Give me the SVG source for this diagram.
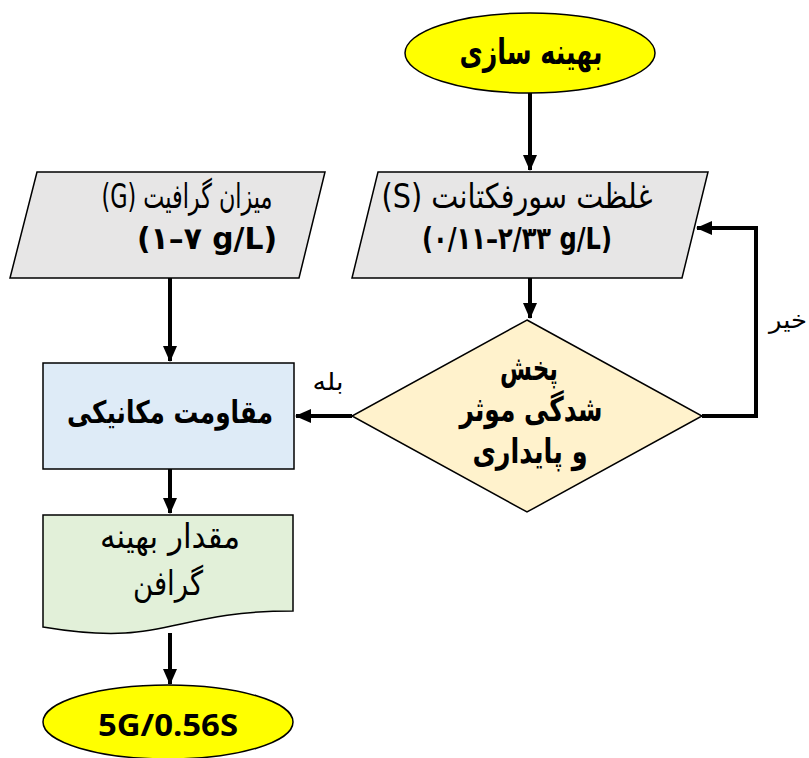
<svg xmlns="http://www.w3.org/2000/svg" width="809" height="758" viewBox="0 0 809 758">
<style>
.ar{font-family:'DejaVu Sans','Noto Sans',sans-serif;fill:#000;}
.b{font-weight:bold;}
.lat{font-family:'Open Sans','DejaVu Sans',sans-serif;fill:#000;}
.conn{fill:none;stroke:#000;stroke-width:4;}
.node{stroke:#000;stroke-width:1.5;}
</style>
<defs>
<marker id="ah" markerUnits="userSpaceOnUse" markerWidth="16" markerHeight="14" refX="15" refY="7" orient="auto">
<path d="M0,0 L16,7 L0,14 Z" fill="#000"/>
</marker>
</defs>
<rect width="809" height="758" fill="#fff"/>

<g id="start">
<ellipse class="node" cx="530" cy="53" rx="125" ry="40" fill="#ffff00"/>
<text class="ar b" x="531" y="64" font-size="35" text-anchor="middle" direction="rtl" textLength="143" lengthAdjust="spacingAndGlyphs">بهینه سازی</text>
</g>

<g id="surfactant">
<polygon class="node" points="378,172 708,172 682,278 352,278" fill="#e7e6e6"/>
<text class="ar" x="517" y="208" font-size="34" text-anchor="middle" direction="rtl" textLength="271" lengthAdjust="spacingAndGlyphs">غلظت سورفکتانت (S)</text>
<text class="ar b" x="517" y="249" font-size="31" text-anchor="middle" direction="ltr" textLength="190" lengthAdjust="spacingAndGlyphs">(۰/۱۱–۲/۳۳ g/L)</text>
</g>

<g id="graphite">
<polygon class="node" points="37,172 325,172 299,278 10,278" fill="#e7e6e6"/>
<text class="ar" x="187" y="208" font-size="34" text-anchor="middle" direction="rtl" textLength="171" lengthAdjust="spacingAndGlyphs">میزان گرافیت (G)</text>
<text class="ar b" x="207" y="249" font-size="31" text-anchor="middle" direction="ltr" textLength="140" lengthAdjust="spacingAndGlyphs">(۱–۷ g/L)</text>
</g>

<g id="decision">
<polygon class="node" points="527,320 702,416 527,512 352,416" fill="#fff2cc"/>
<text class="ar b" x="529" y="380" font-size="34" text-anchor="middle" direction="rtl" textLength="58" lengthAdjust="spacingAndGlyphs">پخش</text>
<text class="ar b" x="531" y="421" font-size="34" text-anchor="middle" direction="rtl" textLength="143" lengthAdjust="spacingAndGlyphs">شدگی موثر</text>
<text class="ar b" x="530" y="463" font-size="34" text-anchor="middle" direction="rtl" textLength="115" lengthAdjust="spacingAndGlyphs">و پایداری</text>
</g>

<g id="mechanical">
<rect class="node" x="43" y="363" width="251" height="106" fill="#deebf7"/>
<text class="ar b" x="170" y="423" font-size="31" text-anchor="middle" direction="rtl" textLength="206" lengthAdjust="spacingAndGlyphs">مقاومت مکانیکی</text>
</g>

<g id="optimal">
<path class="node" d="M43,515 L293,515 L293,611 C168,611 168,648 43,627 Z" fill="#e2f0d9"/>
<text class="ar" x="170" y="548" font-size="34" text-anchor="middle" direction="rtl" textLength="140" lengthAdjust="spacingAndGlyphs">مقدار بهینه</text>
<text class="ar" x="168" y="595" font-size="34" text-anchor="middle" direction="rtl" textLength="70" lengthAdjust="spacingAndGlyphs">گرافن</text>
</g>

<g id="result">
<ellipse class="node" cx="168" cy="722" rx="125" ry="37" fill="#ffff00"/>
<text class="lat b" x="168" y="736" font-size="30" text-anchor="middle" textLength="140" lengthAdjust="spacingAndGlyphs">5G/0.56S</text>
</g>

<g id="connectors">
<path class="conn" d="M530,93 L530,170" marker-end="url(#ah)"/>
<path class="conn" d="M530,278 L530,318" marker-end="url(#ah)"/>
<path class="conn" d="M170,278 L170,361" marker-end="url(#ah)"/>
<path class="conn" d="M352,416 L296,416" marker-end="url(#ah)"/>
<path class="conn" d="M702,416 L756,416 L756,228 L697,228" marker-end="url(#ah)"/>
<path class="conn" d="M170,469 L170,513" marker-end="url(#ah)"/>
<path class="conn" d="M170,633 L170,684" marker-end="url(#ah)"/>
<text class="ar" x="328" y="390" font-size="24" text-anchor="middle" direction="rtl" textLength="31" lengthAdjust="spacingAndGlyphs">بله</text>
<text class="ar" x="788" y="328" font-size="24" text-anchor="middle" direction="rtl" textLength="38" lengthAdjust="spacingAndGlyphs">خیر</text>
</g>
</svg>
